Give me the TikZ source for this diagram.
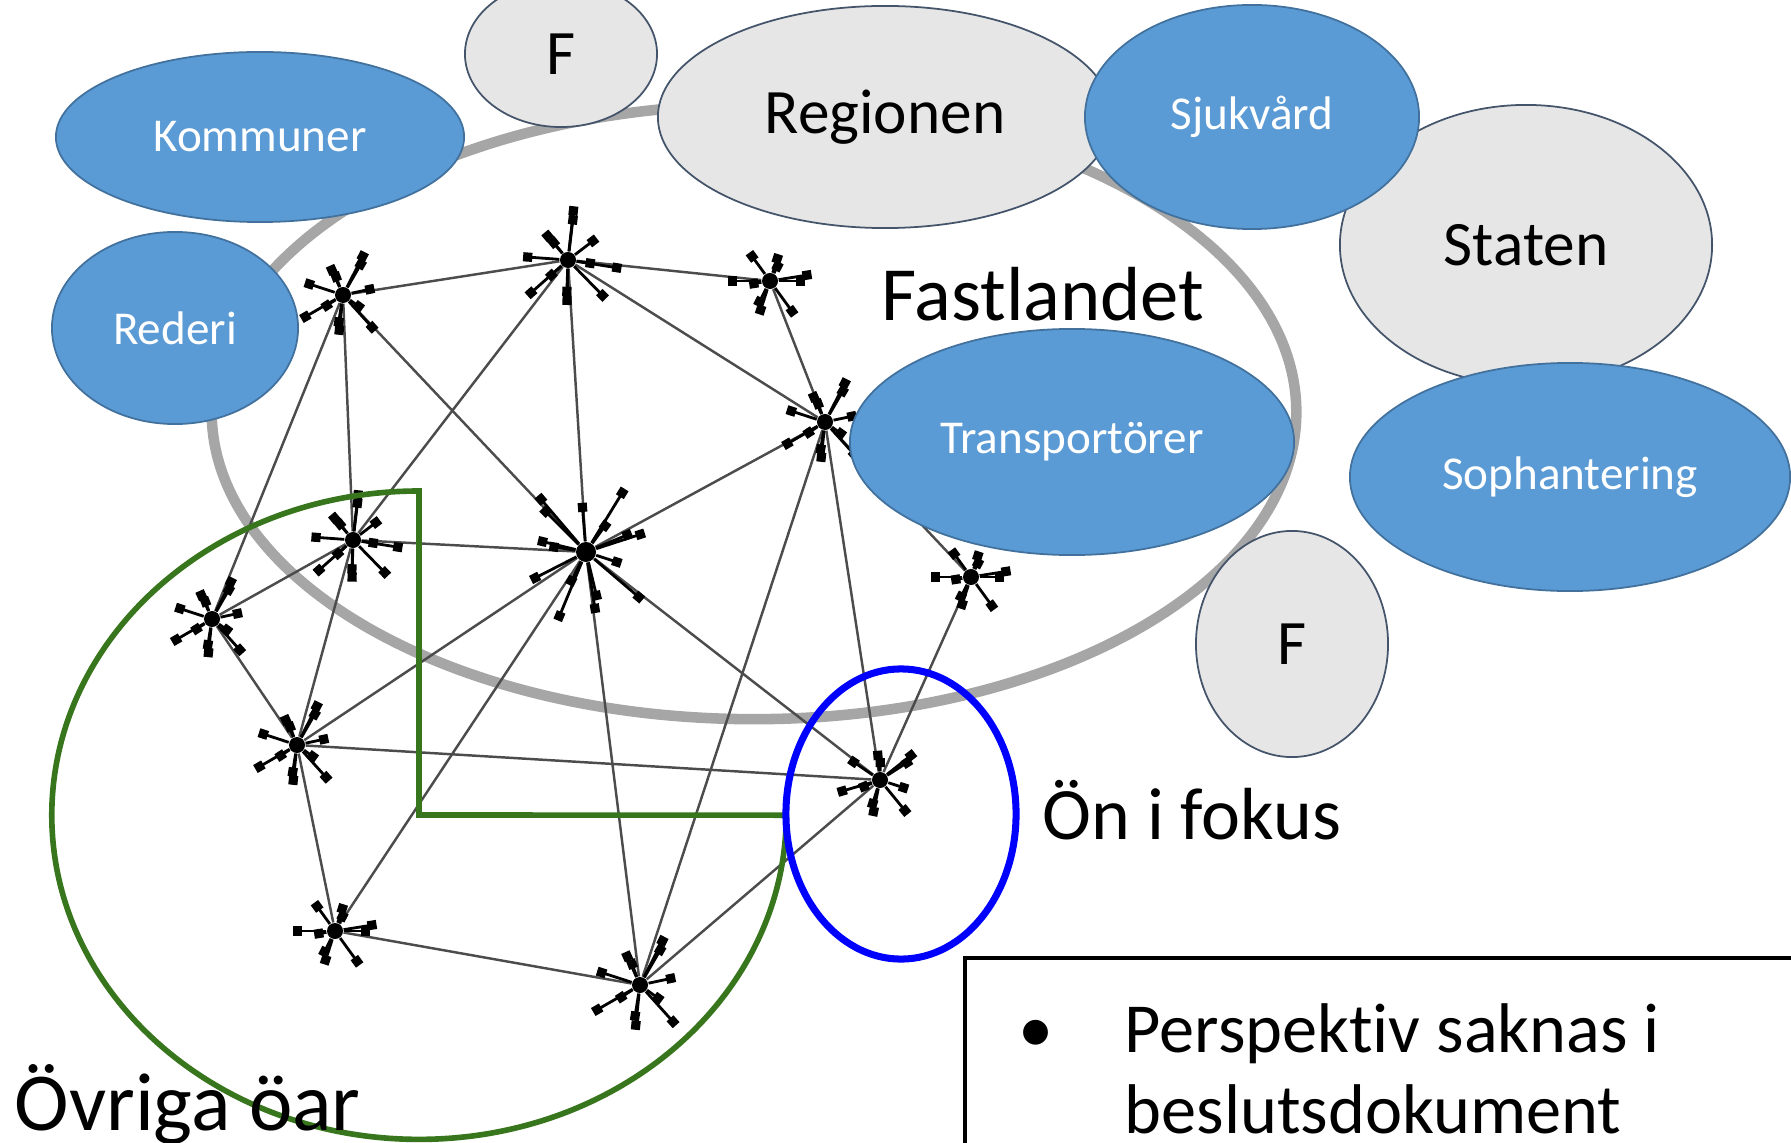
\documentclass[tikz,border=0pt]{standalone}
\usepackage{fontspec}
\setmainfont[Ligatures=NoCommon]{Carlito}
\usetikzlibrary{shapes.geometric,arrows.meta}
\definecolor{bluefill}{HTML}{5B9BD5}
\definecolor{blueedge}{HTML}{41719C}
\definecolor{grayfill}{HTML}{E7E6E6}
\definecolor{grayedge}{HTML}{44546A}
\definecolor{ringgray}{HTML}{A6A6A6}
\definecolor{islandgreen}{HTML}{38761D}

\begin{document}
\begin{tikzpicture}[x=0.01cm, y=-0.01cm,
    actor/.style={ellipse, draw=blueedge, fill=bluefill, line width=0.5pt, text=white, inner sep=0pt, font=\fontsize{13.4}{16}\selectfont},
    party/.style={ellipse, draw=grayedge, fill=grayfill, line width=0.5pt, inner sep=0pt, font=\fontsize{18}{20}\selectfont},
    link/.style={black!70, line width=0.7pt},
    spoke/.style={black, line width=0.8pt, -{Square[length=2.6pt,width=2.6pt]}},
    hub/.style={circle, fill=black, inner sep=0pt, minimum size=1.6mm},
    bigtext/.style={inner sep=0pt, font=\fontsize{21}{23}\selectfont}
  ]
  \useasboundingbox (0,0) rectangle (1791,1143);
  \clip (0,0) rectangle (1791,1143);

  % fastlandet
  \node[ellipse, draw=ringgray, line width=3pt, minimum width=10.84cm, minimum height=6.14cm] (mainland) at (754,412) {};

  % islands
  \node[hub] (a) at (343,295) {};
  \node[hub] (b) at (568,260) {};
  \node[hub] (c) at (770,281) {};
  \node[hub] (d) at (825,422) {};
  \node[hub] (e) at (353,540) {};
  \node[hub, minimum size=2mm] (g) at (586,552) {};
  \node[hub] (h) at (212,619) {};
  \node[hub] (i) at (971,577) {};
  \node[hub] (j) at (297,745) {};
  \node[hub] (k) at (880,780) {};
  \node[hub] (l) at (335,931) {};
  \node[hub] (m) at (640,985) {};

  \foreach \u/\v in {a/b, b/c, a/e, a/h, a/g, b/e, b/g, b/d, c/d, d/g, d/i, d/k, d/m,
                     e/g, e/h, h/j, j/e, j/g, j/k, j/l, g/l, l/m, g/m, m/k, g/k, i/k}
    \draw[link] (\u) -- (\v);

  \foreach \n/\r/\s in {a/48/12, b/54/13, c/42/10, d/48/12, e/50/13, g/74/16,
                        h/46/12, i/40/10, j/48/12, k/44/11, l/42/10, m/54/12} {
    \foreach \t in {1,...,\s} {
      \pgfmathsetmacro{\ang}{\t*360/\s + 9*mod(\t*7,5)}
      \pgfmathsetmacro{\len}{\r*(0.5+0.5*mod(\t*3,4)/3)}
      \draw[spoke] (\n) -- ++(\ang:\len);
    }
  }

  % actors round the ring
  \node[party, minimum width=1.92cm, minimum height=1.46cm] (ftop) at (561,54) {F};
  \node[party, minimum width=4.54cm, minimum height=2.22cm] (regionen) at (885,117) {Regionen};
  \node[actor, minimum width=4.08cm, minimum height=1.70cm] (kommuner) at (260,137) {Kommuner};
  \node[party, minimum width=3.72cm, minimum height=2.80cm] (staten) at (1526,245) {Staten};
  \node[actor, minimum width=3.34cm, minimum height=2.24cm] (sjukvard) at (1252,117) {Sjukvård};
  \node[actor, minimum width=2.46cm, minimum height=1.92cm] (rederi) at (175,328) {Rederi};
  \node[actor, minimum width=4.44cm, minimum height=2.26cm] (transport) at (1072,442) {Transportörer};
  \node[actor, minimum width=4.40cm, minimum height=2.28cm] (sophant) at (1570,477) {Sophantering};
  \node[party, minimum width=1.92cm, minimum height=2.26cm] (fbot) at (1292,644) {F};

  % övriga öar och ön i fokus
  \coordinate (gtop) at (419,491);
  \coordinate (gcorner) at (419,815);
  \draw[islandgreen, line width=1.6pt] (gtop) arc [start angle=90, end angle=360, x radius=3.67cm, y radius=3.24cm] -- (gcorner) -- cycle;
  \node[ellipse, draw=blue, line width=2pt, minimum width=2.30cm, minimum height=2.90cm] (focusring) at (901,814) {};

  \node[bigtext, anchor=base, font=\fontsize{21.8}{24}\selectfont] (fastland) at (1043,321) {Fastlandet};
  \node[bigtext, anchor=base west] (fokus) at (1042,839) {Ön i fokus};
  \node[bigtext, anchor=base west, font=\fontsize{23.4}{26}\selectfont] (ovriga) at (14,1130) {Övriga öar};

  % slutsats
  \draw[line width=1pt] (965,958) rectangle (1810,1170);
  \node[bigtext, anchor=base, font=\fontsize{20}{23}\selectfont] (dot) at (1036,1052) {\textbullet};
  \node[bigtext, anchor=base west, font=\fontsize{20}{23}\selectfont] (rad1) at (1124,1052) {Perspektiv saknas i};
  \node[bigtext, anchor=base west, font=\fontsize{20}{23}\selectfont] (rad2) at (1124,1133) {beslutsdokument};
\end{tikzpicture}
\end{document}
